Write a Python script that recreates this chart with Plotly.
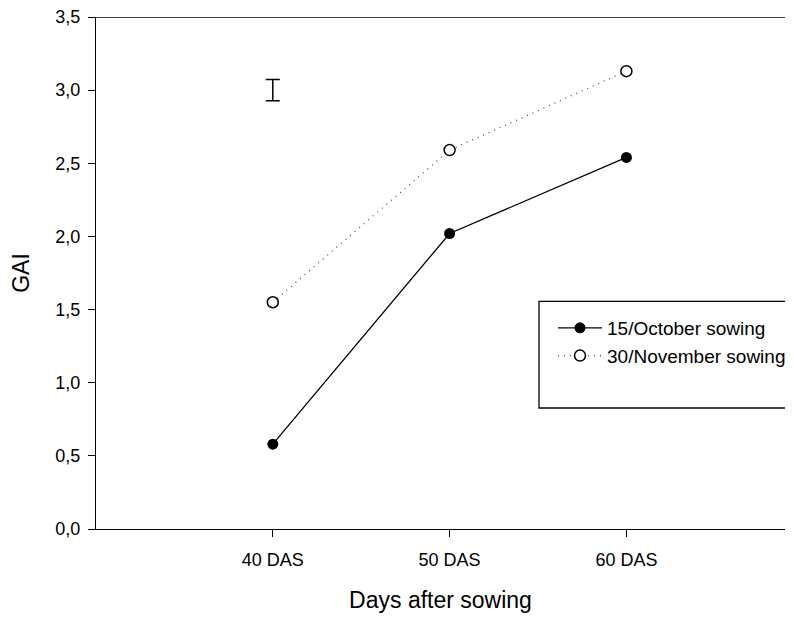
import plotly.graph_objects as go

days = [40, 50, 60]
tick_labels = ["40 DAS", "50 DAS", "60 DAS"]
oct_sowing = [0.58, 2.02, 2.54]
nov_sowing = [1.55, 2.59, 3.13]
lsd_x = [40]
lsd_y = [3.0]
lsd_err = [0.072]

FONT = "Liberation Sans, Arial, sans-serif"

# page body has an 8px default margin; the figure fits inside the body
W, H = 777, 605
L, T, B = 88, 9, 84
PW = W - L          # plot width
PH = H - T - B      # plot height

def px_x(px):       # page x -> paper x
    return (px - 8 - L) / PW

def px_y(py):       # page y -> paper y
    return (H - B - (py - 8)) / PH

fig = go.Figure()
fig.add_trace(go.Scatter(
    x=days, y=oct_sowing, mode="lines+markers", name="15/October sowing",
    line=dict(color="black", width=1.3),
    marker=dict(symbol="circle", size=11, color="black"),
))
fig.add_trace(go.Scatter(
    x=days, y=nov_sowing, mode="lines+markers", name="30/November sowing",
    line=dict(color="#444444", width=1.2, dash="1px,5px"),
    marker=dict(symbol="circle", size=11, color="white", line=dict(color="black", width=1.5)),
))
fig.add_trace(go.Scatter(
    x=lsd_x, y=lsd_y, mode="markers", showlegend=False,
    marker=dict(size=1, color="rgba(0,0,0,0)"),
    error_y=dict(type="data", array=lsd_err, visible=True, color="black", thickness=1.5, width=7),
))

fig.update_layout(
    template="none",
    width=W, height=H, autosize=False,
    margin=dict(l=L, r=0, t=T, b=B, pad=0, autoexpand=False),
    paper_bgcolor="white", plot_bgcolor="white",
    separators=", ",
    font=dict(family=FONT, color="black", size=18),
    showlegend=True,
    legend=dict(
        x=px_x(553), y=px_y(309), xanchor="left", yanchor="top",
        xref="paper", yref="paper",
        bgcolor="rgba(0,0,0,0)", borderwidth=0,
        font=dict(size=19, family=FONT), itemwidth=44,
    ),
    shapes=[
        dict(type="rect", xref="paper", yref="paper",
             x0=px_x(539), x1=1.1, y0=px_y(408), y1=px_y(301.3),
             line=dict(color="black", width=1.3), fillcolor="white", layer="below"),
        dict(type="line", xref="paper", yref="y", x0=0, x1=1.1, y0=3.5, y1=3.5,
             line=dict(color="black", width=1.3)),
    ],
)

fig.update_xaxes(
    range=[30, 30 + PW / 17.68], automargin=False,
    tickvals=days, ticktext=tick_labels,
    ticks="outside", ticklen=7, tickwidth=1.2, tickcolor="black",
    showline=True, linecolor="black", linewidth=1.3,
    showgrid=False, zeroline=False,
    tickfont=dict(size=18), ticklabelstandoff=7, ticklabeloverflow="allow",
    title=dict(text="Days after sowing", font=dict(size=23), standoff=34),
)
fig.update_yaxes(
    range=[0, 3.5], dtick=0.5, tickformat=".1f", automargin=False,
    ticks="outside", ticklen=7, tickwidth=1.2, tickcolor="black",
    showline=True, linecolor="black", linewidth=1.3,
    showgrid=False, zeroline=False,
    tickfont=dict(size=18), ticklabelstandoff=4, ticklabeloverflow="allow",
    title=dict(text="GAI", font=dict(size=23), standoff=20),
)

fig.write_html("out.html")
